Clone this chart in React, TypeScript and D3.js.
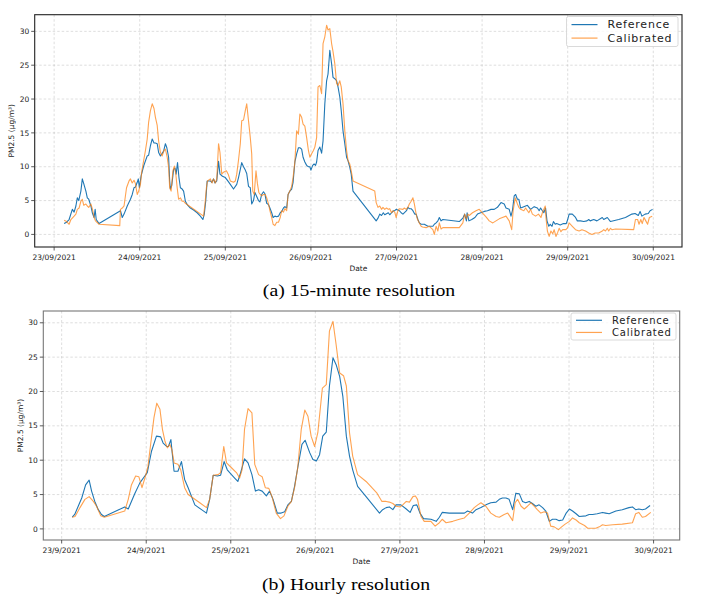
import React from 'react';
import * as d3 from 'd3';

// PM2.5 at the site, [hours since 23/09/2021 00:00, µg/m³]
const reference15min: [number, number][] = [
  [2.8, 1.6], [3.5, 1.8], [4.2, 2.2], [5.1, 3.7], [5.6, 3.3], [6.1, 4.2], [6.5, 5.4], [6.9, 5.0],
  [7.5, 6.4], [7.9, 8.2], [8.3, 7.5], [8.9, 6.4], [9.3, 5.4], [9.7, 5.2], [10.3, 4.2], [10.7, 3.2],
  [11.2, 2.5], [11.5, 3.7], [11.8, 2.2], [12.6, 1.6], [18.6, 3.5], [19.1, 2.5], [19.6, 3.0], [20.5, 4.2],
  [21.4, 5.2], [21.9, 5.9], [22.4, 6.9], [22.8, 7.0], [23.3, 7.7], [23.6, 8.2], [23.9, 6.9], [24.4, 8.7],
  [25.1, 10.1], [26.1, 11.6], [26.5, 11.7], [27.0, 13.1], [27.5, 14.1], [28.0, 13.5], [28.4, 13.5], [28.9, 13.4],
  [29.3, 12.1], [29.8, 11.6], [30.2, 11.9], [30.7, 12.3], [31.2, 13.4], [31.6, 12.8], [32.1, 11.4], [32.4, 7.9],
  [32.6, 6.7], [33.0, 7.3], [33.5, 9.6], [33.9, 9.8], [34.2, 8.9], [34.6, 10.6], [35.0, 8.4], [35.4, 6.9],
  [35.9, 6.7], [36.3, 6.4], [36.8, 4.9], [37.3, 4.4], [38.2, 3.9], [39.1, 3.6], [40.1, 3.2], [41.0, 2.7],
  [41.7, 2.2], [42.1, 3.0], [42.5, 4.9], [42.9, 7.9], [43.8, 7.9], [44.2, 7.7], [44.7, 8.2], [45.1, 7.6],
  [45.6, 7.9], [46.1, 10.8], [46.5, 8.9], [47.2, 8.6], [48.0, 8.4], [48.7, 7.9], [49.4, 7.4], [50.3, 6.7],
  [51.2, 7.4], [51.7, 8.4], [52.2, 9.6], [52.6, 10.6], [53.1, 10.0], [53.6, 9.5], [54.0, 9.0], [54.5, 7.1],
  [55.0, 6.9], [55.4, 4.5], [55.9, 5.0], [56.3, 6.2], [56.8, 5.6], [57.3, 5.0], [57.7, 4.8], [58.2, 5.9],
  [58.7, 6.3], [59.1, 6.0], [59.6, 4.6], [60.1, 4.4], [60.5, 3.9], [61.0, 3.2], [61.4, 2.5], [61.9, 2.7],
  [62.4, 2.6], [62.9, 2.7], [63.4, 3.2], [63.8, 3.4], [64.3, 3.9], [64.7, 4.1], [65.2, 3.9], [65.6, 5.9],
  [66.1, 6.4], [66.6, 6.7], [67.0, 7.7], [67.5, 10.7], [68.0, 11.9], [68.5, 12.8], [68.9, 12.8], [69.4, 12.6],
  [69.8, 11.4], [70.3, 10.7], [70.8, 10.2], [71.3, 10.0], [71.7, 10.0], [72.0, 9.5], [72.5, 10.2], [72.9, 10.4],
  [73.3, 10.2], [73.6, 10.7], [74.0, 12.4], [74.5, 12.9], [75.0, 12.0], [75.4, 13.8], [75.9, 19.3], [76.4, 22.7],
  [76.8, 23.7], [77.3, 27.2], [77.8, 25.2], [78.2, 23.2], [78.7, 23.0], [79.2, 22.7], [79.6, 21.8], [80.1, 20.3],
  [80.5, 18.3], [81.0, 15.3], [81.5, 13.4], [82.0, 11.4], [82.4, 10.9], [82.9, 9.9], [83.3, 8.9], [83.8, 6.4],
  [90.3, 2.0], [90.8, 2.4], [91.3, 3.0], [91.8, 2.8], [92.3, 3.2], [92.7, 2.9], [93.7, 3.2], [94.1, 2.9],
  [94.6, 3.2], [95.2, 3.5], [95.5, 3.5], [95.9, 3.7], [96.8, 3.5], [97.3, 3.2], [97.8, 3.0], [98.8, 3.5],
  [99.2, 4.0], [99.6, 3.8], [100.1, 3.8], [100.6, 3.5], [101.1, 3.0], [101.5, 3.0], [102.0, 2.2], [102.4, 1.7],
  [102.9, 1.5], [103.8, 1.5], [104.8, 1.2], [105.7, 1.2], [106.2, 1.2], [106.6, 1.5], [107.1, 1.7], [107.6, 2.0],
  [108.0, 2.5], [108.5, 2.0], [109.0, 2.2], [113.6, 1.9], [114.6, 2.4], [115.1, 3.0], [115.6, 2.0], [115.8, 3.2],
  [116.3, 2.0], [117.1, 2.2], [118.0, 2.5], [118.7, 3.0], [119.6, 3.2], [120.6, 3.4], [121.5, 3.5], [122.5, 3.7],
  [123.4, 3.7], [124.3, 4.0], [125.3, 4.7], [126.2, 4.5], [126.7, 3.9], [127.6, 3.7], [128.1, 2.7], [128.5, 3.5],
  [129.0, 5.7], [129.4, 5.9], [129.9, 5.2], [130.3, 5.2], [130.8, 3.9], [131.7, 4.1], [132.7, 4.3], [133.6, 3.7],
  [134.6, 4.1], [135.5, 3.9], [136.0, 3.5], [136.4, 3.9], [136.9, 3.5], [137.3, 3.2], [137.8, 3.9], [138.2, 2.0],
  [138.7, 1.2], [139.1, 1.5], [139.6, 1.2], [140.0, 1.9], [140.5, 1.5], [140.9, 1.6], [141.9, 1.4], [142.8, 1.6],
  [143.6, 1.6], [144.0, 2.2], [144.4, 3.0], [145.3, 3.0], [146.2, 2.5], [146.7, 2.0], [147.6, 2.0], [148.5, 1.9],
  [149.4, 2.0], [149.9, 2.2], [150.3, 2.0], [151.3, 2.2], [152.2, 2.0], [153.7, 2.5], [154.1, 2.2], [155.1, 2.5],
  [156.0, 1.9], [158.3, 2.2], [160.2, 2.5], [162.0, 3.0], [162.9, 3.1], [163.8, 2.8], [164.3, 3.4], [164.8, 2.7],
  [165.7, 3.0], [166.6, 3.1], [167.1, 3.5], [167.8, 3.7],
];

const calibrated15min: [number, number][] = [
  [2.8, 2.1], [3.5, 1.9], [4.2, 1.5], [4.7, 2.2], [5.6, 2.7], [6.1, 3.0], [6.5, 3.7], [7.0, 3.9],
  [7.5, 4.9], [7.9, 5.2], [8.3, 4.3], [8.9, 4.5], [9.3, 4.2], [9.7, 4.0], [10.3, 4.5], [10.7, 3.8],
  [11.2, 2.5], [11.6, 2.0], [12.6, 1.5], [18.4, 1.3], [18.6, 3.7], [19.1, 3.9], [19.6, 4.2], [20.3, 6.9],
  [21.0, 7.9], [21.4, 8.2], [21.9, 7.6], [22.4, 8.0], [22.8, 7.5], [23.3, 5.9], [23.7, 6.4], [24.2, 7.4],
  [24.6, 9.4], [25.1, 10.9], [25.6, 12.4], [26.1, 14.1], [26.5, 16.6], [27.0, 18.3], [27.5, 19.3], [28.0, 18.6],
  [28.4, 17.3], [28.9, 16.1], [29.3, 13.8], [29.8, 12.1], [30.3, 11.6], [30.8, 12.4], [31.2, 12.6], [31.7, 11.4],
  [32.1, 9.9], [32.4, 6.9], [32.8, 6.4], [33.3, 9.4], [33.7, 10.1], [34.1, 9.0], [34.5, 6.9], [34.9, 5.2],
  [35.4, 5.4], [35.9, 4.9], [36.3, 4.9], [36.8, 4.6], [41.9, 2.7], [42.3, 4.5], [42.7, 6.9], [43.0, 7.9],
  [43.8, 8.2], [44.3, 7.6], [44.7, 8.2], [45.2, 7.6], [45.6, 8.2], [46.1, 13.4], [46.5, 12.1], [47.0, 8.9],
  [47.5, 9.2], [48.3, 9.4], [48.8, 8.9], [49.4, 7.9], [50.3, 7.7], [50.8, 7.9], [51.2, 8.9], [51.7, 11.0],
  [52.2, 13.4], [52.6, 16.8], [53.1, 16.9], [53.6, 18.3], [54.0, 19.3], [54.5, 16.8], [55.0, 14.3], [55.4, 11.9],
  [55.7, 6.4], [56.1, 5.9], [56.6, 9.4], [57.0, 7.5], [57.4, 6.2], [57.8, 5.9], [58.2, 5.7], [58.7, 5.9],
  [59.2, 5.9], [59.6, 5.4], [60.1, 4.5], [60.5, 3.5], [61.0, 2.5], [61.4, 1.5], [61.9, 1.3], [62.4, 1.8],
  [62.9, 1.8], [63.4, 2.5], [63.8, 3.5], [64.3, 3.3], [64.7, 3.8], [65.2, 3.5], [65.6, 5.9], [66.1, 6.4],
  [66.6, 7.1], [67.0, 8.4], [67.5, 10.7], [68.0, 15.3], [68.5, 14.8], [68.9, 17.8], [69.4, 17.3], [69.8, 16.3],
  [70.3, 16.0], [70.8, 14.3], [71.3, 12.4], [71.7, 11.4], [72.2, 11.9], [72.7, 12.4], [73.1, 12.9], [73.6, 14.3],
  [74.0, 21.8], [74.5, 22.0], [75.0, 20.8], [75.4, 28.2], [75.9, 29.2], [76.4, 30.9], [76.8, 30.2], [77.3, 30.4],
  [77.8, 28.2], [78.2, 27.0], [78.7, 25.2], [79.2, 22.3], [79.6, 22.0], [80.1, 22.7], [80.5, 21.8], [81.0, 19.3],
  [81.5, 15.3], [82.0, 12.4], [82.4, 10.9], [82.9, 10.4], [83.3, 9.4], [83.8, 7.9], [89.9, 6.4], [90.3, 4.7],
  [90.8, 4.0], [91.3, 4.2], [91.8, 3.7], [92.2, 4.0], [92.7, 3.7], [93.2, 3.9], [93.7, 3.7], [94.1, 3.8],
  [94.6, 3.2], [95.0, 3.5], [95.5, 3.3], [95.9, 2.5], [96.4, 3.5], [96.8, 3.8], [97.8, 3.7], [98.2, 3.9],
  [98.7, 3.7], [99.2, 4.0], [99.6, 4.5], [100.1, 4.9], [100.6, 5.4], [101.0, 4.5], [101.5, 3.0], [101.9, 2.2],
  [102.4, 1.7], [102.9, 1.2], [103.3, 1.1], [104.3, 1.0], [105.2, 1.2], [106.2, 0.7], [106.6, 0.0], [107.1, 1.2],
  [107.6, 0.5], [108.0, 1.7], [108.5, 0.8], [109.0, 1.0], [113.6, 1.0], [114.6, 1.7], [115.1, 3.0], [115.6, 2.3],
  [116.0, 3.0], [116.4, 2.8], [117.3, 3.2], [118.3, 3.5], [119.2, 3.7], [120.2, 3.1], [121.1, 2.6], [122.0, 2.0],
  [123.0, 1.7], [123.9, 2.0], [124.8, 2.3], [125.7, 2.5], [126.7, 2.7], [127.6, 2.0], [128.3, 0.7], [128.7, 3.5],
  [129.3, 5.4], [129.9, 4.5], [130.3, 4.0], [130.8, 3.7], [131.7, 3.5], [132.2, 3.9], [133.1, 3.2], [133.6, 3.7],
  [134.1, 3.0], [135.0, 2.7], [135.8, 3.0], [136.5, 2.5], [136.9, 3.2], [137.7, 4.2], [137.9, 2.5], [138.3, 0.5],
  [138.8, -0.3], [139.3, 0.5], [139.8, 0.1], [140.2, 0.7], [140.7, -0.3], [141.2, 0.3], [141.6, 0.9], [142.1, 0.4],
  [142.6, 0.7], [143.5, 0.7], [144.0, 1.0], [144.4, 1.7], [145.3, 1.2], [146.2, 0.7], [147.2, 0.5], [148.0, 0.7],
  [149.0, 0.5], [149.9, 0.2], [150.8, 0.0], [151.7, 0.2], [152.7, 0.2], [153.7, 0.5], [154.1, 0.7], [154.6, 0.5],
  [155.1, 0.9], [155.5, 0.5], [156.0, 0.9], [156.4, 0.7], [157.4, 0.8], [162.5, 0.7], [163.0, 2.2], [163.6, 2.2],
  [164.0, 1.5], [164.5, 2.2], [164.9, 1.6], [165.4, 2.5], [165.9, 2.0], [166.4, 1.5], [166.9, 2.5], [167.7, 2.7],
];

const referenceHourly: [number, number][] = [
  [3.0, 1.7], [3.7, 2.1], [4.7, 3.3], [5.7, 4.5], [6.8, 6.4], [7.8, 7.1], [8.5, 5.5], [9.4, 4.0],
  [10.4, 2.8], [11.3, 2.1], [12.1, 1.8], [17.9, 3.2], [18.9, 2.9], [19.8, 4.0], [20.8, 5.2], [22.2, 6.7],
  [23.6, 7.7], [24.3, 8.2], [25.5, 11.3], [26.9, 13.5], [28.1, 13.4], [28.8, 12.5], [29.8, 12.0], [30.3, 12.0],
  [31.0, 13.0], [31.9, 8.4], [33.0, 8.4], [34.0, 9.8], [34.9, 7.2], [35.9, 6.0], [37.8, 3.5], [39.7, 2.8],
  [41.1, 2.3], [42.0, 4.3], [43.0, 7.8], [44.2, 7.7], [45.1, 7.8], [46.1, 9.8], [47.0, 8.6], [48.2, 7.9],
  [49.1, 7.4], [50.0, 6.9], [50.8, 8.2], [51.9, 10.2], [52.9, 9.6], [54.0, 7.9], [55.0, 5.5], [55.9, 5.7],
  [56.9, 5.5], [58.1, 4.8], [59.0, 5.5], [60.0, 4.3], [61.2, 2.3], [62.3, 2.3], [63.3, 2.5], [64.2, 3.5],
  [65.2, 4.0], [66.1, 6.2], [67.0, 8.9], [68.2, 12.3], [69.1, 12.9], [70.4, 11.1], [71.3, 10.1], [72.3, 9.9],
  [73.2, 10.8], [74.1, 13.5], [75.1, 14.1], [76.0, 20.8], [77.0, 24.9], [77.9, 23.9], [78.9, 22.2], [79.8, 19.3],
  [80.8, 13.5], [81.7, 10.6], [82.6, 8.6], [84.0, 6.2], [86.4, 4.7], [90.2, 2.3], [91.1, 2.8], [92.1, 3.1],
  [93.0, 3.2], [94.0, 2.8], [94.9, 3.5], [96.3, 3.5], [97.8, 2.9], [98.9, 2.4], [99.8, 3.4], [100.8, 3.5],
  [101.7, 2.3], [102.7, 1.5], [104.8, 1.4], [106.3, 1.1], [107.2, 1.7], [108.0, 2.4], [110.0, 2.3], [114.3, 2.3],
  [115.2, 2.6], [116.6, 2.3], [117.6, 2.8], [119.0, 3.1], [120.4, 3.5], [121.8, 3.8], [123.3, 3.9], [124.2, 4.3],
  [125.1, 4.5], [126.1, 4.5], [127.0, 4.3], [128.0, 2.8], [128.9, 5.2], [129.9, 5.1], [130.8, 4.0], [131.7, 3.8],
  [132.7, 4.0], [133.6, 3.7], [134.6, 3.3], [135.5, 3.5], [136.5, 3.1], [137.4, 2.6], [138.4, 1.1], [139.3, 1.4],
  [140.3, 1.4], [141.2, 1.2], [142.2, 1.3], [143.2, 2.3], [144.1, 2.9], [145.0, 2.6], [146.0, 2.2], [146.9, 1.8],
  [148.8, 1.9], [149.7, 2.1], [150.7, 2.1], [152.0, 2.2], [153.5, 2.4], [154.4, 2.3], [155.4, 2.2], [157.3, 2.6],
  [159.1, 2.8], [161.0, 3.1], [162.0, 3.2], [162.9, 2.8], [163.8, 2.9], [164.8, 2.8], [165.7, 2.9], [167.0, 3.4],
];

const calibratedHourly: [number, number][] = [
  [3.0, 1.7], [3.8, 1.8], [5.2, 3.1], [6.6, 4.3], [7.8, 4.7], [9.0, 4.0], [9.9, 3.3], [11.1, 1.9],
  [12.1, 1.7], [17.9, 2.6], [18.9, 4.3], [19.8, 6.4], [21.0, 7.7], [21.9, 7.6], [22.8, 6.0], [23.8, 7.7],
  [24.5, 9.1], [25.3, 12.5], [26.2, 16.2], [27.0, 18.3], [27.9, 17.4], [28.6, 14.5], [29.3, 12.8], [30.0, 11.8],
  [30.7, 12.3], [31.3, 11.5], [31.9, 9.6], [33.0, 9.4], [33.8, 8.6], [34.9, 6.0], [35.9, 5.0], [37.3, 4.5],
  [39.2, 3.8], [41.1, 3.1], [42.0, 4.3], [43.0, 7.8], [44.4, 7.9], [45.1, 8.2], [46.0, 12.0], [46.8, 9.6],
  [48.2, 8.9], [49.6, 8.2], [50.5, 7.4], [51.2, 8.6], [51.9, 14.5], [52.9, 17.5], [54.0, 16.9], [54.8, 9.4],
  [55.9, 7.9], [56.9, 7.6], [57.8, 6.0], [58.8, 5.9], [59.7, 4.7], [60.9, 2.3], [62.1, 1.5], [63.1, 1.9],
  [64.2, 3.3], [65.2, 4.0], [66.1, 6.0], [67.0, 8.9], [68.0, 14.5], [69.0, 17.3], [69.9, 16.4], [70.8, 13.5],
  [71.8, 12.0], [72.7, 14.0], [74.0, 20.5], [75.1, 21.0], [76.0, 28.8], [77.0, 30.2], [77.9, 26.8], [78.9, 22.7],
  [80.0, 22.3], [80.8, 20.8], [81.7, 14.0], [82.6, 10.6], [84.0, 7.9], [86.4, 6.9], [89.5, 5.2], [90.9, 4.0],
  [92.1, 4.0], [93.0, 3.9], [94.0, 3.7], [94.9, 3.3], [96.1, 3.2], [96.8, 3.5], [97.8, 4.0], [98.7, 3.9],
  [99.7, 4.7], [100.4, 4.8], [101.0, 4.3], [102.0, 1.8], [102.9, 1.1], [104.8, 1.1], [106.0, 0.4], [107.2, 0.9],
  [108.0, 1.4], [109.1, 0.9], [111.0, 1.1], [112.9, 1.4], [114.3, 1.6], [115.7, 2.3], [117.1, 3.1], [118.1, 3.5],
  [119.0, 3.8], [120.4, 3.3], [121.8, 2.3], [123.3, 1.8], [124.2, 1.7], [125.6, 2.1], [126.6, 2.3], [127.5, 1.6],
  [128.0, 1.2], [128.7, 3.8], [129.4, 4.3], [130.4, 3.3], [131.3, 2.9], [132.2, 3.3], [133.2, 3.8], [134.1, 3.3],
  [135.0, 2.8], [136.0, 2.3], [137.0, 2.5], [137.9, 2.3], [138.8, 0.4], [139.8, 0.3], [141.0, -0.1], [141.9, 0.3],
  [142.9, 0.7], [144.1, 1.1], [145.0, 1.6], [146.0, 1.3], [146.9, 0.9], [148.4, 0.5], [149.3, 0.1], [150.7, 0.1],
  [151.6, 0.1], [152.6, 0.3], [153.5, 0.6], [154.4, 0.5], [156.4, 0.6], [159.1, 0.7], [162.0, 0.9], [162.9, 2.2],
  [163.8, 2.4], [164.8, 1.7], [165.7, 1.8], [167.2, 2.4],
];

const seriesNames = ['Reference', 'Calibrated'];
const seriesColors = ['#1f77b4', '#ff7f0e'];
const seriesOpacity = [1, 0.72];
const yTicks = [0, 5, 10, 15, 20, 25, 30];
const dayTicks = [0, 1, 2, 3, 4, 5, 6, 7];
const yLabel = 'PM2.5 (μg/m³)';

const start = new Date(2021, 8, 23);
const toDate = (h: number) => new Date(start.getTime() + h * 3600 * 1000);

const tickFont = 'DejaVu Sans, sans-serif';

type Pt = [number, number];

function Panel(props: {
  series: Pt[][];
  left: number; top: number; right: number; bottom: number;
  dateFormat: string;
  frameColor: string;
  yLabelX: number;
  legend: { x: number; y: number; w: number; h: number; fs: number };
  caption: string; captionX: number; captionY: number;
}) {
  const { series, left, top, right, bottom, legend } = props;
  const all = series.flat();
  const [h0, h1] = d3.extent(all, (d) => d[0]) as [number, number];
  const [v0, v1] = d3.extent(all, (d) => d[1]) as [number, number];
  const ph = (h1 - h0) * 0.05;
  const pv = (v1 - v0) * 0.05;

  const x = d3.scaleTime().domain([toDate(h0 - ph), toDate(h1 + ph)]).range([left, right]);
  const y = d3.scaleLinear().domain([v0 - pv, v1 + pv]).range([bottom, top]);
  const line = d3.line<Pt>().x((d) => x(toDate(d[0]))).y((d) => y(d[1]));
  const fmt = d3.timeFormat(props.dateFormat);
  const dates = dayTicks.map((d) => toDate(d * 24));

  return (
    <g>
      {/* grid */}
      {yTicks.map((t) => (
        <line key={'gy' + t} x1={left} x2={right} y1={y(t)} y2={y(t)}
          stroke="#b0b0b0" strokeOpacity={0.6} strokeWidth={0.7} strokeDasharray="2.5,2" />
      ))}
      {dates.map((d, i) => (
        <line key={'gx' + i} x1={x(d)} x2={x(d)} y1={top} y2={bottom}
          stroke="#b0b0b0" strokeOpacity={0.6} strokeWidth={0.7} strokeDasharray="2.5,2" />
      ))}

      {series.map((s, i) => (
        <path key={i} d={line(s) ?? ''} fill="none" stroke={seriesColors[i]}
          strokeOpacity={seriesOpacity[i]} strokeWidth={1.1} strokeLinejoin="round" />
      ))}

      <rect x={left} y={top} width={right - left} height={bottom - top}
        fill="none" stroke={props.frameColor} strokeWidth={1.1} />

      {/* y axis */}
      {yTicks.map((t) => (
        <g key={'ty' + t}>
          <line x1={left - 3.5} x2={left} y1={y(t)} y2={y(t)} stroke="#333" strokeWidth={0.8} />
          <text x={left - 5.5} y={y(t)} dy="0.35em" textAnchor="end" fontSize={7.5}
            fontFamily={tickFont} fill="#222">{t}</text>
        </g>
      ))}
      <text transform={`translate(${props.yLabelX},${(top + bottom) / 2}) rotate(-90)`}
        textAnchor="middle" fontSize={7.5} fontFamily={tickFont} fill="#222">{yLabel}</text>

      {/* x axis */}
      {dates.map((d, i) => (
        <g key={'tx' + i}>
          <line x1={x(d)} x2={x(d)} y1={bottom} y2={bottom + 3.5} stroke="#333" strokeWidth={0.8} />
          <text x={x(d)} y={bottom + 12.5} textAnchor="middle" fontSize={7.5}
            fontFamily={tickFont} fill="#222">{fmt(d)}</text>
        </g>
      ))}
      <text x={(left + right) / 2} y={bottom + 23.5} textAnchor="middle" fontSize={7.5}
        fontFamily={tickFont} fill="#222">Date</text>

      {/* legend */}
      <rect x={legend.x} y={legend.y} width={legend.w} height={legend.h} rx={2}
        fill="#fff" fillOpacity={0.8} stroke="#d0d0d0" strokeWidth={0.8} />
      {seriesNames.map((n, i) => {
        const ly = legend.y + legend.h * (0.27 + i * 0.45);
        return (
          <g key={n}>
            <line x1={legend.x + 5} x2={legend.x + 31} y1={ly} y2={ly}
              stroke={seriesColors[i]} strokeOpacity={seriesOpacity[i]} strokeWidth={1.2} />
            <text x={legend.x + 41} y={ly} dy="0.35em" fontSize={legend.fs} letterSpacing={0.8}
              fontFamily={tickFont} fill="#222">{n}</text>
          </g>
        );
      })}

      <text transform={`translate(${props.captionX},${props.captionY}) scale(1.2,1)`}
        textAnchor="middle" fontSize={16.5}
        fontFamily="Liberation Serif, serif" fill="#000">{props.caption}</text>
    </g>
  );
}

export default function App() {
  return (
    <svg width={707} height={596} style={{ position: 'absolute', left: 0, top: 0, background: '#fff' }}>
      <Panel
        series={[reference15min, calibrated15min]}
        left={34.7} top={14.7} right={682} bottom={247}
        dateFormat="%d/%m/%Y" frameColor="#222" yLabelX={14}
        legend={{ x: 566.5, y: 16.5, w: 111.5, h: 30, fs: 11 }}
        caption="(a) 15-minute resolution" captionX={359} captionY={296}
      />
      <Panel
        series={[referenceHourly, calibratedHourly]}
        left={43.3} top={311} right={679.7} bottom={540}
        dateFormat="%-d/%-m/%Y" frameColor="#777" yLabelX={22.5}
        legend={{ x: 571, y: 313, w: 105, h: 27, fs: 10 }}
        caption="(b) Hourly resolution" captionX={346} captionY={590}
      />
    </svg>
  );
}
